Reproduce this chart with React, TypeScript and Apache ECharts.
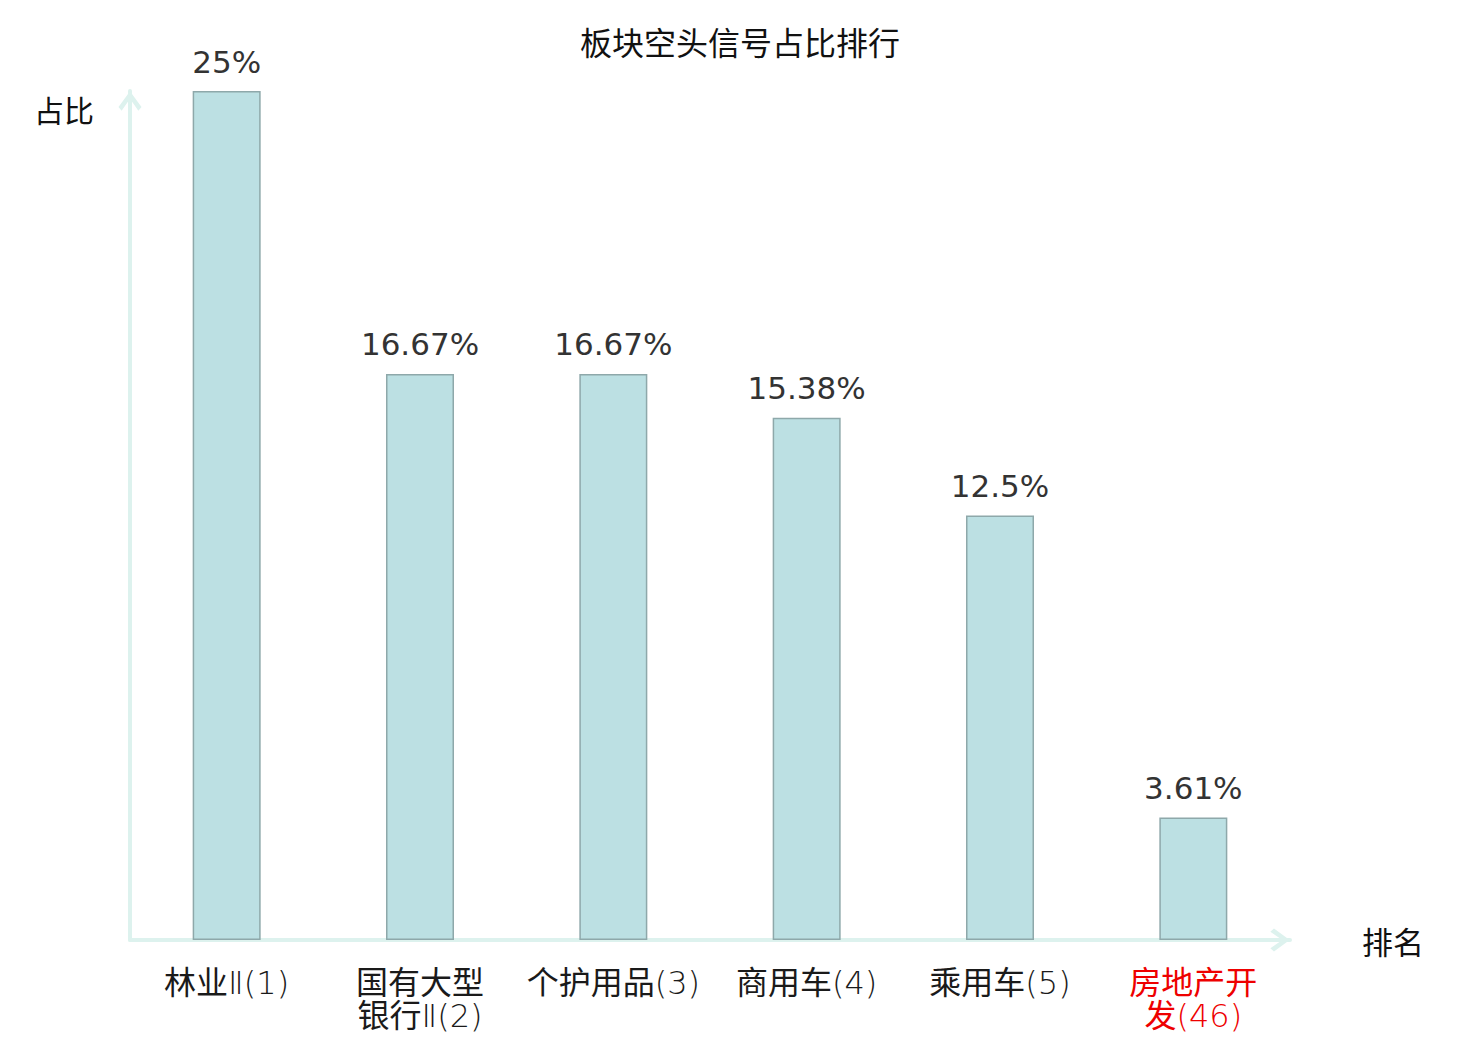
import React, { useEffect, useRef } from "react";
import * as echarts from "echarts";

const categories = ["林业Ⅱ(1)", "国有大型\n银行Ⅱ(2)", "个护用品(3)", "商用车(4)", "乘用车(5)", "房地产开\n发(46)"];
const highlightIndex = [5];
const values = [25, 16.67, 16.67, 15.38, 12.5, 3.61];
const yMax = 25;

const FONT = "'DejaVu Sans', 'Noto Sans CJK SC', sans-serif";
const CJK_FONT = "'Noto Sans CJK SC', 'DejaVu Sans', sans-serif";
const LABEL_FONT = "'DejaVu Sans Light', 'Noto Sans CJK SC', sans-serif";
const AXIS_COLOR = "#ddf2ee";
const CHEVRON = "path://M11,0 L22,15 L19,18.5 L11,7 L3,18.5 L0,15 Z";

export default function App() {
  const ref = useRef<HTMLDivElement>(null);
  useEffect(() => {
    document.body.style.margin = "0";
    const chart = echarts.init(ref.current!, null, { renderer: "svg" });
    const axisLine = {
      show: true,
      symbol: ["none", CHEVRON],
      symbolSize: [23, 21],
      symbolOffset: [0, -10],
      lineStyle: { color: AXIS_COLOR, width: 4 },
    };
    chart.setOption({
      animation: false,
      backgroundColor: "#ffffff",
      textStyle: { fontFamily: FONT },
      title: {
        text: "板块空头信号占比排行",
        left: "center",
        top: 20,
        textStyle: { fontSize: 32, fontWeight: "normal", color: "#111", fontFamily: CJK_FONT },
      },
      grid: { left: 130, right: 190, top: 91, bottom: 100, containLabel: false },
      graphic: [
        {
          type: "text",
          left: 34,
          top: 94,
          style: { text: "占比", fontSize: 30, fill: "#111", fontFamily: CJK_FONT },
        },
      ],
      xAxis: {
        type: "category",
        data: categories.map((c, i) =>
          highlightIndex.includes(i) ? { value: c, textStyle: { color: "#ee0000" } } : c
        ),
        name: "排名",
        nameLocation: "end",
        nameGap: 72,
        nameTextStyle: { fontSize: 31, color: "#111", fontFamily: CJK_FONT },
        axisLine,
        axisTick: { show: false },
        axisLabel: {
          interval: 0,
          margin: 26,
          fontSize: 32,
          lineHeight: 33,
          color: "#1a1a1a",
          fontFamily: LABEL_FONT,
        },
      },
      yAxis: {
        type: "value",
        min: 0,
        max: yMax,
        axisLine,
        axisTick: { show: false },
        axisLabel: { show: false },
        splitLine: { show: false },
      },
      series: [
        {
          type: "bar",
          data: values,
          barWidth: 68,
          itemStyle: { color: "#bce0e3", borderColor: "#8ea8aa", borderWidth: 1.5 },
          label: {
            show: true,
            position: "top",
            distance: 14,
            fontSize: 31,
            color: "#333",
            fontFamily: FONT,
            formatter: (p: any) => `${p.value}%`,
          },
        },
      ],
    });
    return () => chart.dispose();
  }, []);
  return <div ref={ref} style={{ width: 1480, height: 1040 }} />;
}
